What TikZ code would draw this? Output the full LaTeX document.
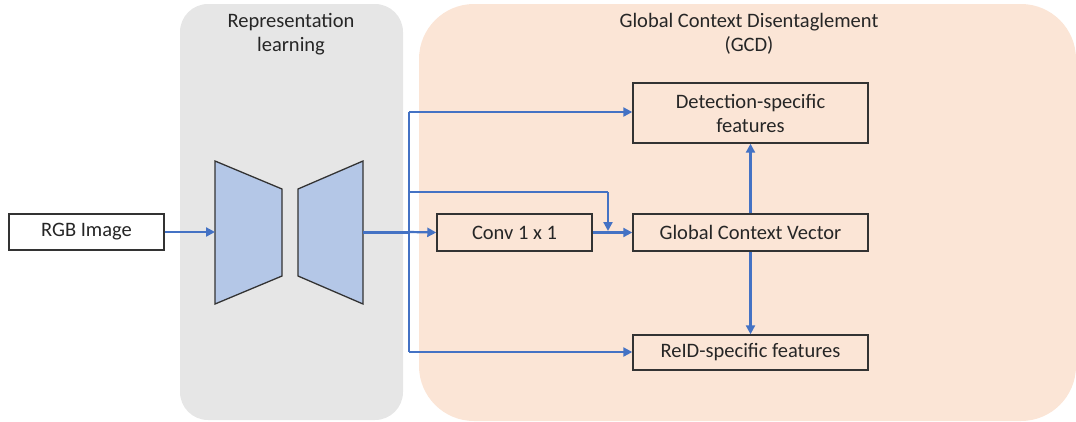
\documentclass[tikz,border=0pt]{standalone}
\usepackage{fontspec}
\setmainfont{Carlito}
\usetikzlibrary{arrows.meta}
\definecolor{panelgray}{HTML}{E6E6E6}
\definecolor{panelpeach}{HTML}{FBE5D6}
\definecolor{flowblue}{HTML}{4472C4}
\definecolor{encfill}{HTML}{B4C7E7}
\definecolor{edgegray}{HTML}{333333}
\tikzset{
  box/.style={draw=edgegray, line width=1.4pt, minimum height=36pt, inner sep=0pt,
    align=center, font=\fontsize{20.5}{24}\selectfont, text=black!85},
  flow/.style={draw=flowblue, line width=2.2pt, -{Triangle[length=9pt,width=9pt]}},
  link/.style={draw=flowblue, line width=2.2pt},
  title/.style={align=center, font=\fontsize{20.5}{24.5}\selectfont, text=black!85},
  coder/.style={draw=edgegray, line width=1.3pt, fill=encfill, line join=miter}
}
\begin{document}
\begin{tikzpicture}[x=1pt, y=-1pt]
  \useasboundingbox (0,0) rectangle (1076,421);

  % background panels
  \fill[panelgray, rounded corners=28pt] (180,4) rectangle (403,420);
  \fill[panelpeach, rounded corners=55pt] (419,4) rectangle (1076,421);

  \node[title] (reptitle) at (291,34) {Representation\\learning};
  \node[title] (gcdtitle) at (749,34) {Global Context Disentaglement\\(GCD)};

  % input
  \node[box, minimum width=155pt, fill=white] (rgb) at (86.5,232) {RGB Image};

  % encoder / decoder trapezoids
  \draw[coder] (215,161) -- (282,189) -- (282,276) -- (215,304) -- cycle;
  \draw[coder] (298,189) -- (363,161) -- (363,304) -- (298,276) -- cycle;
  \coordinate (encin) at (215,232);
  \coordinate (decout) at (363,232);

  % GCD boxes
  \node[box, minimum width=155pt, minimum height=37pt] (conv) at (514.5,232.5) {Conv 1 x 1};
  \node[box, minimum width=235pt, minimum height=37pt] (gcv) at (750.5,232.5) {Global Context Vector};
  \node[box, minimum width=235pt, minimum height=60pt] (det) at (750.5,113) {Detection-specific\\features};
  \node[box, minimum width=235pt, minimum height=35pt] (reid) at (750.5,352.5) {ReID-specific features};

  % routing points
  \coordinate (split) at (409,232);
  \coordinate (splittop) at (409,112);
  \coordinate (splitmid) at (409,192);
  \coordinate (splitbot) at (409,352);
  \coordinate (dropin) at (608,192);
  \coordinate (dropend) at (608,231);

  % connectors
  \draw[flow] (rgb.east) -- (encin);
  \draw[link, line width=3pt] (decout) -- (split);
  \draw[flow] (split) -- (conv.west);
  \draw[link] (splittop) -- (splitbot);
  \draw[flow] (splittop) -- (det.west |- splittop);
  \draw[flow] (splitbot) -- (reid.west |- splitbot);
  \draw[link] (splitmid) -- (dropin);
  \draw[flow] (dropin) -- (dropend);
  \draw[flow] (conv.east) -- (gcv.west);
  \draw[flow] (gcv.north) -- (det.south);
  \draw[flow] (gcv.south) -- (reid.north);
\end{tikzpicture}
\end{document}
